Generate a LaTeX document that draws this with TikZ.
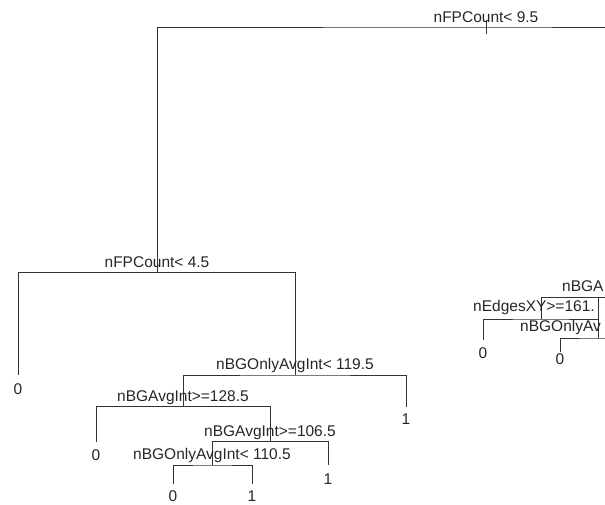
\documentclass[tikz,border=0pt]{standalone}
\usepackage{fontspec}
\setmainfont{Liberation Sans}
\begin{document}
\begin{tikzpicture}[x=1pt,y=-1pt,
  br/.style={draw=black!80, line width=0.9pt},
  lab/.style={anchor=base, inner sep=0pt, font=\fontsize{15.5}{18}\selectfont, text=black!85},
  labw/.style={lab, anchor=base west}]
\useasboundingbox (0,0) rectangle (605,505);
\clip (0,0) rectangle (605,505);
% split points
\coordinate (rootTop) at (486,20);
\coordinate (root) at (486,27);
\coordinate (rootTick) at (486,34);
\coordinate (rootR) at (620,27);
\coordinate (a) at (157,272.5);
\coordinate (b) at (295,375);
\coordinate (c) at (183,406.5);
\coordinate (d) at (270,441.5);
\coordinate (e) at (212,465);
\coordinate (g) at (541,319);
\coordinate (fR) at (620,297);
\coordinate (hTop) at (598,297);
\coordinate (h) at (598,338);
\coordinate (hR) at (620,338);
% leaves
\coordinate (L0a) at (18,375);
\coordinate (L1a) at (406,406.5);
\coordinate (L0b) at (96,441.5);
\coordinate (L1b) at (328,465);
\coordinate (L0c) at (173,484);
\coordinate (L1c) at (252,484);
\coordinate (L0d) at (483,340);
\coordinate (L0e) at (560,352);
% branches
\draw[br] (a) |- (root) -- (rootR);
\draw[br] (rootTop) -- (rootTick);
\draw[br] (L0a) |- (a) -| (b);
\draw[br] (c) |- (b) -| (L1a);
\draw[br] (L0b) |- (c) -| (d);
\draw[br] (e) |- (d) -| (L1b);
\draw[br] (L0c) |- (e) -| (L1c);
\draw[br] (g) |- (fR);
\draw[br] (L0d) |- (g) -| (h);
\draw[br] (hTop) -- (h);
\draw[br] (L0e) |- (h) -- (hR);
% split labels
\node[lab] (ta) at (486,23) {nFPCount< 9.5};
\node[lab] (tb) at (157,267.5) {nFPCount< 4.5};
\node[lab] (tc) at (295,369) {nBGOnlyAvgInt< 119.5};
\node[lab] (td) at (183,401.5) {nBGAvgInt>=128.5};
\node[lab] (te) at (270,436.5) {nBGAvgInt>=106.5};
\node[lab] (tf) at (212,459) {nBGOnlyAvgInt< 110.5};
\node[labw] (tg) at (562,291) {nBGA};
\node[labw] (th) at (473,311.5) {nEdgesXY>=161.};
\node[labw] (ti) at (520,331.5) {nBGOnlyAv};
% leaf labels
\node[lab] (la) at (18,394.5) {0};
\node[lab] (lb) at (406,424.5) {1};
\node[lab] (lc) at (96,460.5) {0};
\node[lab] (ld) at (328,484) {1};
\node[lab] (le) at (173,501.5) {0};
\node[lab] (lf) at (252,501.5) {1};
\node[lab] (lg) at (483,358.5) {0};
\node[lab] (lh) at (560,364) {0};
\end{tikzpicture}
\end{document}
